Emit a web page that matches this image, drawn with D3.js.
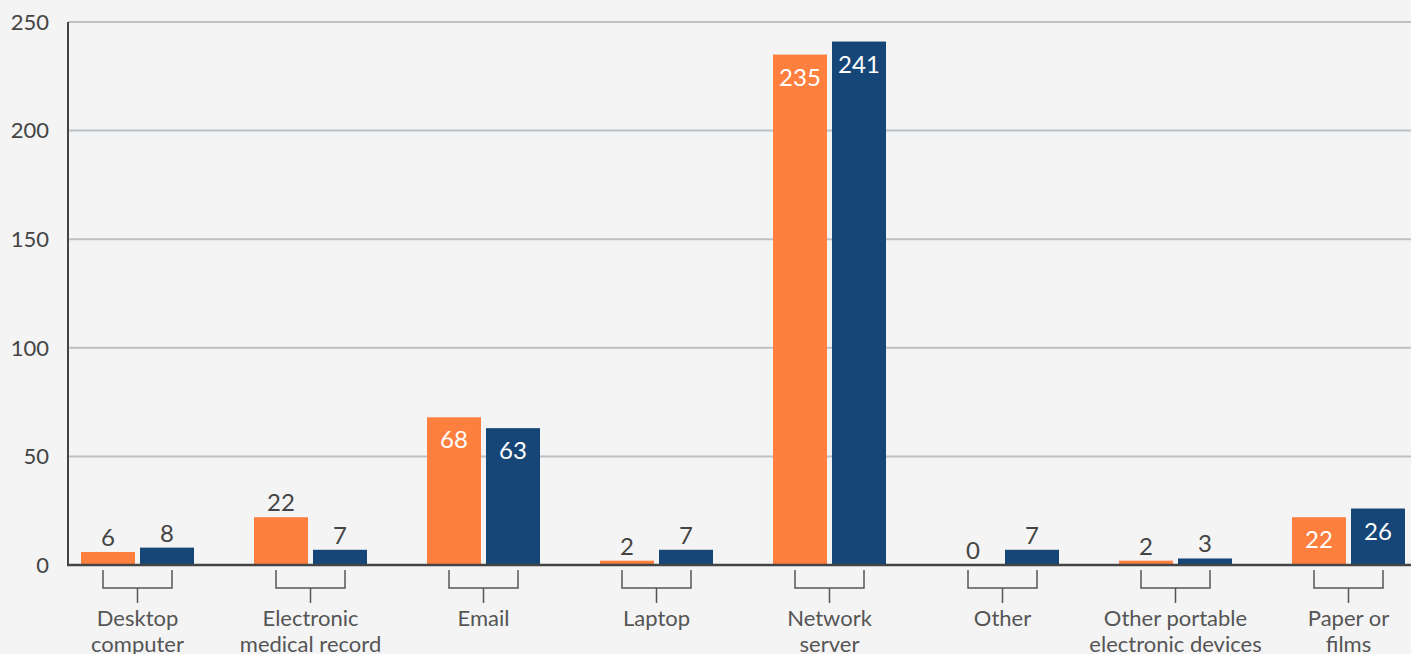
<!DOCTYPE html>
<html>
<head>
<meta charset="utf-8">
<script src="https://cdn.jsdelivr.net/npm/d3@7"></script>
<style>
  html, body { margin: 0; padding: 0; background: #f4f4f4; overflow: hidden; }
  svg { display: block; font-family: Lato, "Open Sans", sans-serif; }
</style>
</head>
<body>
<svg width="1411" height="654"></svg>
<script>
    'use strict';

    // chart data
    var categories = ['Desktop computer', 'Electronic medical record', 'Email', 'Laptop',
        'Network server', 'Other', 'Other portable electronic devices', 'Paper or films'];
    var labelLines = [['Desktop', 'computer'], ['Electronic', 'medical record'], ['Email'], ['Laptop'],
        ['Network', 'server'], ['Other'], ['Other portable', 'electronic devices'], ['Paper or', 'films']];
    var seriesA = [6, 22, 68, 2, 235, 0, 2, 22];   // orange
    var seriesB = [8, 7, 63, 7, 241, 7, 3, 26];    // blue
    var yTicks = [0, 50, 100, 150, 200, 250];
    // categories whose value labels sit inside the bars
    var insideLabels = ['Email', 'Network server', 'Paper or films'];

    var svg = d3.select("svg"),
        width = +svg.attr("width"),
        height = +svg.attr("height");

    var colors = ['#ff7f3f', '#154677'];
    var barW = 54, gap = 5;

    var x = d3.scaleBand()
        .domain(categories)
        .range([51, 51 + 173 * categories.length])
        .padding(0);

    var y = d3.scaleLinear()
        .domain([0, 250])
        .range([565, 22]);

    // gridlines
    svg.append("g")
        .selectAll("line")
        .data(yTicks.filter(function (d) { return d > 0; }))
        .enter().append("line")
            .attr("x1", 68).attr("x2", width)
            .attr("y1", function (d) { return y(d); })
            .attr("y2", function (d) { return y(d); })
            .attr("stroke", "#bcc1c5")
            .attr("stroke-width", 2);

    // y tick labels
    svg.append("g")
        .selectAll("text")
        .data(yTicks)
        .enter().append("text")
            .attr("x", 49)
            .attr("y", function (d) { return y(d); })
            .attr("dy", "0.35em")
            .attr("text-anchor", "end")
            .attr("font-size", 22)
            .attr("fill", "#444")
            .text(function (d) { return d; });

    var series = [seriesA, seriesB];
    var bars = svg.append("g");
    series.forEach(function (vals, s) {
        var xOff = s === 0 ? -(barW + gap / 2) : gap / 2;
        bars.selectAll(null)
            .data(vals)
            .enter().append("rect")
                .attr("x", function (d, i) { return x(categories[i]) + x.bandwidth() / 2 + xOff; })
                .attr("y", function (d) { return y(d); })
                .attr("width", barW)
                .attr("height", function (d) { return y(0) - y(d); })
                .attr("fill", colors[s]);

        bars.selectAll(null)
            .data(vals)
            .enter().append("text")
                .attr("x", function (d, i) { return x(categories[i]) + x.bandwidth() / 2 + xOff + barW / 2; })
                .attr("y", function (d, i) {
                    return insideLabels.indexOf(categories[i]) >= 0 ? y(d) + 31 : y(d) - 6;
                })
                .attr("text-anchor", "middle")
                .attr("font-size", 24)
                .attr("fill", function (d, i) {
                    return insideLabels.indexOf(categories[i]) >= 0 ? "#fff" : "#444";
                })
                .text(function (d) { return d; });
    });

    // axes lines
    svg.append("line")
        .attr("x1", 68).attr("x2", 68)
        .attr("y1", y(250)).attr("y2", y(0) + 1)
        .attr("stroke", "#444").attr("stroke-width", 2);
    svg.append("line")
        .attr("x1", 67).attr("x2", width)
        .attr("y1", y(0)).attr("y2", y(0))
        .attr("stroke", "#444").attr("stroke-width", 2.5);

    // brackets and category labels
    var groups = svg.append("g")
        .selectAll("g")
        .data(categories)
        .enter().append("g")
            .attr("transform", function (d) { return "translate(" + (x(d) + x.bandwidth() / 2) + ",0)"; });

    groups.append("path")
        .attr("d", "M-34.5,570V588H34.5V570M0,588V603")
        .attr("fill", "none")
        .attr("stroke", "#555")
        .attr("stroke-width", 1.5);

    groups.each(function (d, i) {
        var t = d3.select(this).append("text")
            .attr("text-anchor", "middle")
            .attr("font-size", 22)
            .attr("fill", "#555");
        labelLines[i].forEach(function (line, j) {
            t.append("tspan")
                .attr("x", 0)
                .attr("y", 626 + j * 26)
                .text(line);
        });
    });
</script>
</body>
</html>
